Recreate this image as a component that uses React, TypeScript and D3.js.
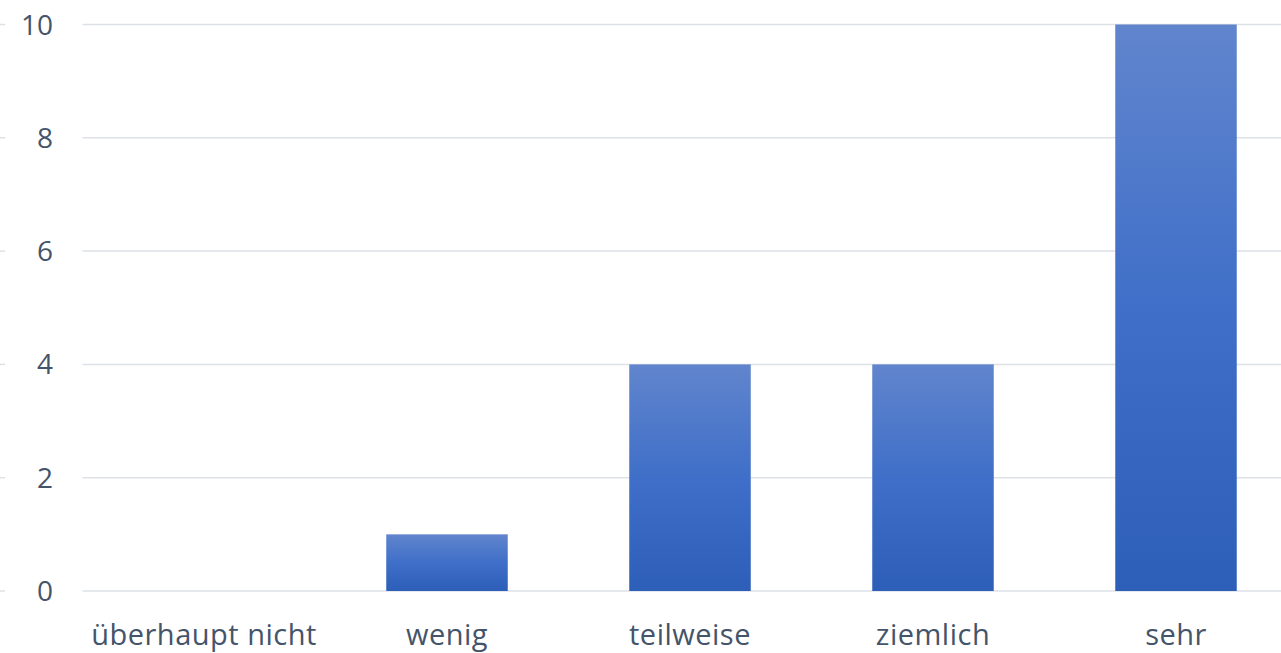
import React from "react";
import * as d3 from "d3";

const categories = ["überhaupt nicht", "wenig", "teilweise", "ziemlich", "sehr"];
const values = [0, 1, 4, 4, 10];
const yTicks = [0, 2, 4, 6, 8, 10];

const W = 1281;
const H = 653;
const left = 82.5;
const right = 1297.5;
const top = 24.5;
const bottom = 591;

export default function App() {
  const x = d3.scaleBand<string>().domain(categories).range([left, right]).paddingInner(0.5).paddingOuter(0.25);
  const y = d3.scaleLinear().domain([0, 10]).range([bottom, top]);
  const font = "'Open Sans', 'Noto Sans', sans-serif";
  return (
    <svg width={W} height={H} style={{ position: "absolute", left: 0, top: 0 }}>
      <defs>
        <linearGradient id="barGrad" x1="0" y1="0" x2="0" y2="1">
          <stop offset="0" stopColor="#6185cd" />
          <stop offset="0.5" stopColor="#3f6fc8" />
          <stop offset="1" stopColor="#2d5eb8" />
        </linearGradient>
      </defs>
      <rect x={0} y={0} width={W} height={H} fill="#ffffff" />
      {yTicks.map((t) => (
        <g key={t}>
          <line x1={left} x2={W} y1={y(t)} y2={y(t)} stroke="#dde1e6" strokeWidth={1.5} />
          <line x1={0} x2={5} y1={y(t)} y2={y(t)} stroke="#dde1e6" strokeWidth={1.5} />
          <text x={53} y={y(t)} dy="0.36em" textAnchor="end" fontFamily={font} fontSize={28} fill="#44546a">
            {t}
          </text>
        </g>
      ))}
      {categories.map((c, i) =>
        values[i] > 0 ? (
          <rect key={c} x={x(c)} y={y(values[i])} width={x.bandwidth()} height={bottom - y(values[i])} fill="url(#barGrad)" />
        ) : null
      )}
      {categories.map((c) => (
        <text key={c} x={(x(c) as number) + x.bandwidth() / 2} y={645} textAnchor="middle" fontFamily={font} fontSize={29} letterSpacing={0.5} fill="#44546a">
          {c}
        </text>
      ))}
    </svg>
  );
}
